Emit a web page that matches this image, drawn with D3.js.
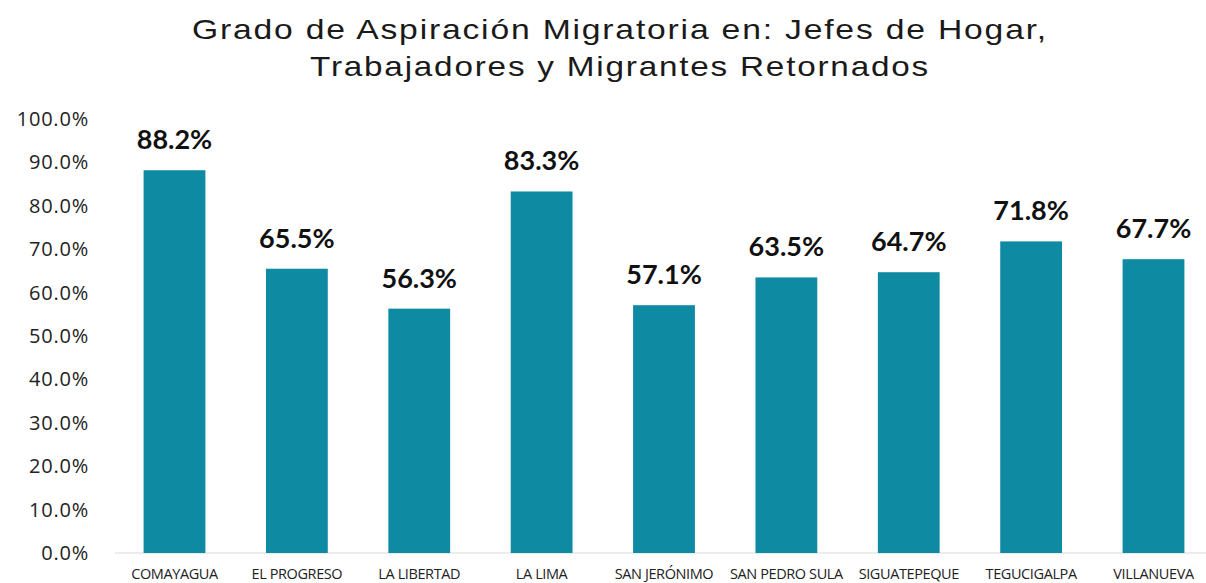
<!DOCTYPE html>
<html>
<head>
<meta charset="utf-8">
<script src="https://cdn.jsdelivr.net/npm/d3@7"></script>
<style>
  body { margin: 0; background: #fff; }
  svg { display: block; }
</style>
</head>
<body>
<div id="chart"></div>
<script>
// datos
var ciudades = ['COMAYAGUA', 'EL PROGRESO', 'LA LIBERTAD', 'LA LIMA', 'SAN JERÓNIMO',
                'SAN PEDRO SULA', 'SIGUATEPEQUE', 'TEGUCIGALPA', 'VILLANUEVA'];
var aspiracion = [88.2, 65.5, 56.3, 83.3, 57.1, 63.5, 64.7, 71.8, 67.7];
var ticksY = [0, 10, 20, 30, 40, 50, 60, 70, 80, 90, 100];
var titulo = ['Grado de Aspiración Migratoria en: Jefes de Hogar,',
              'Trabajadores y Migrantes Retornados'];

var width = 1206, height = 583,
    margin = {top: 119, right: -9, bottom: 30, left: 113};

var datos = ciudades.map(function(c, i) { return {ciudad: c, valor: aspiracion[i]}; });

var svg = d3.select('#chart').append('svg')
  .attr('width', width)
  .attr('height', height);

var x = d3.scaleBand()
  .domain(ciudades)
  .range([margin.left, width - margin.right])
  .paddingInner(0.495)
  .paddingOuter(0.25);

var y = d3.scaleLinear()
  .domain([0, 100])
  .range([height - margin.bottom, margin.top]);

// titulo (letras algo estiradas como en el original)
var anchoTitulo = [856, 620];
svg.append('g').selectAll('text')
  .data(titulo)
  .enter().append('text')
  .attr('x', 620)
  .attr('y', function(d, i) { return 39 + i * 37; })
  .attr('text-anchor', 'middle')
  .attr('textLength', function(d, i) { return anchoTitulo[i]; })
  .attr('lengthAdjust', 'spacingAndGlyphs')
  .style('font-family', '"Liberation Sans", Arial, sans-serif')
  .style('font-size', '28px')
  .style('letter-spacing', '1.5px')
  .style('fill', '#1a1a1a')
  .text(function(d) { return d; });

// eje y
var ejeY = svg.append('g')
  .attr('transform', 'translate(' + 89 + ',0)')
  .call(d3.axisLeft(y).tickValues(ticksY).tickSize(0).tickPadding(0)
    .tickFormat(function(d) { return d3.format('.1f')(d) + '%'; }));
ejeY.select('.domain').remove();
ejeY.selectAll('text')
  .style('font-family', '"Open Sans", sans-serif')
  .style('font-size', '20px')
  .style('letter-spacing', '0.8px')
  .style('fill', '#222');

// linea base
svg.append('line')
  .attr('x1', 115).attr('x2', width)
  .attr('y1', y(0)).attr('y2', y(0))
  .attr('stroke', '#d9d9d9')
  .attr('stroke-width', 1);

// barras
svg.append('g').selectAll('rect')
  .data(datos)
  .enter().append('rect')
  .attr('x', function(d) { return x(d.ciudad); })
  .attr('y', function(d) { return y(d.valor); })
  .attr('width', x.bandwidth())
  .attr('height', function(d) { return y(0) - y(d.valor); })
  .attr('fill', '#0f8aa3');

// etiquetas de valor
svg.append('g').selectAll('text')
  .data(datos)
  .enter().append('text')
  .attr('x', function(d) { return x(d.ciudad) + x.bandwidth() / 2; })
  .attr('y', function(d) { return y(d.valor) - 21; })
  .attr('text-anchor', 'middle')
  .style('font-family', 'Lato, sans-serif')
  .style('font-weight', 'bold')
  .style('font-size', '27px')
  .style('fill', '#111')
  .text(function(d) { return d.valor.toFixed(1) + '%'; });

// eje x
var ejeX = svg.append('g')
  .attr('transform', 'translate(0,' + y(0) + ')')
  .call(d3.axisBottom(x).tickSize(0).tickPadding(16));
ejeX.select('.domain').remove();
ejeX.selectAll('text')
  .style('font-family', '"Open Sans", sans-serif')
  .style('font-size', '14.5px')
  .style('letter-spacing', '-0.4px')
  .style('fill', '#222');
</script>
</body>
</html>
